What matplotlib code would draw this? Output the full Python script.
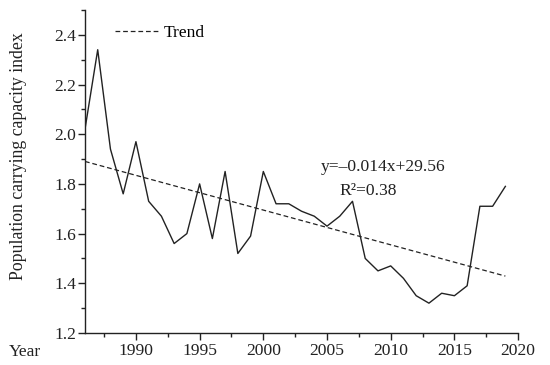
import numpy as np
import matplotlib
matplotlib.use("Agg")
import matplotlib.pyplot as plt
from matplotlib.ticker import MultipleLocator

years = list(range(1986, 2020))
index_values = [2.02, 2.34, 1.94, 1.76, 1.97, 1.73, 1.67, 1.56, 1.60, 1.80,
                1.58, 1.85, 1.52, 1.59, 1.85, 1.72, 1.72, 1.69, 1.67, 1.63,
                1.67, 1.73, 1.50, 1.45, 1.47, 1.42, 1.35, 1.32, 1.36, 1.35,
                1.39, 1.71, 1.71, 1.79]
x_ticks = [1990, 1995, 2000, 2005, 2010, 2015, 2020]
y_ticks = [1.2, 1.4, 1.6, 1.8, 2.0, 2.2, 2.4]

plt.rcParams['font.family'] = ['Liberation Serif', 'DejaVu Serif']
FS = 12.6
C = '#222222'

fig = plt.figure(figsize=(5.5, 3.65), dpi=100)
ax = fig.add_axes([0.1545, 0.0877, 0.7875, 0.885])

yrs = np.array(years)
vals = np.array(index_values)
ax.plot(yrs, vals, color=C, lw=1.0)
coef = np.polyfit(yrs, vals, 1)
ax.plot(yrs, np.polyval(coef, yrs), color=C, lw=0.9, ls=(0, (3.8, 2.3)), label='Trend')

ax.set_xlim(1986, 2020)
ax.set_ylim(1.2, 2.5)
ax.set_xticks(x_ticks)
ax.set_yticks(y_ticks)
ax.set_yticklabels([f"{v:.1f}" for v in y_ticks])
ax.xaxis.set_minor_locator(MultipleLocator(2.5))
ax.yaxis.set_minor_locator(MultipleLocator(0.1))
ax.tick_params(which='major', direction='out', length=5, width=1, labelsize=FS, colors=C)
ax.tick_params(axis='y', which='major', pad=1.5)
ax.tick_params(axis='x', which='major', pad=2)
ax.tick_params(which='minor', direction='out', length=3, width=1, colors=C)
for s in ['top', 'right']:
    ax.spines[s].set_visible(False)
for s in ['left', 'bottom']:
    ax.spines[s].set_linewidth(1)
    ax.spines[s].set_color(C)

ax.set_ylabel('Population carrying capacity index', fontsize=12.8, color=C)
ax.yaxis.set_label_coords(-0.134, 0.548)
fig.text(9/550, 1 - 352/365, 'Year', fontsize=FS, color=C, va='center', ha='left')

ax.legend(loc='center left', bbox_to_anchor=(0.069, 0.929), frameon=False, fontsize=FS,
          handlelength=2.45, handletextpad=0.35, borderpad=0, borderaxespad=0)

ax.text(2004.5, 1.87, 'y=\u20130.014x+29.56', fontsize=FS, color=C, va='center')
ax.text(2005.95, 1.77, 'R\u00b2=0.38', fontsize=FS, color=C, va='center')

fig.savefig('out.png', dpi=100)
